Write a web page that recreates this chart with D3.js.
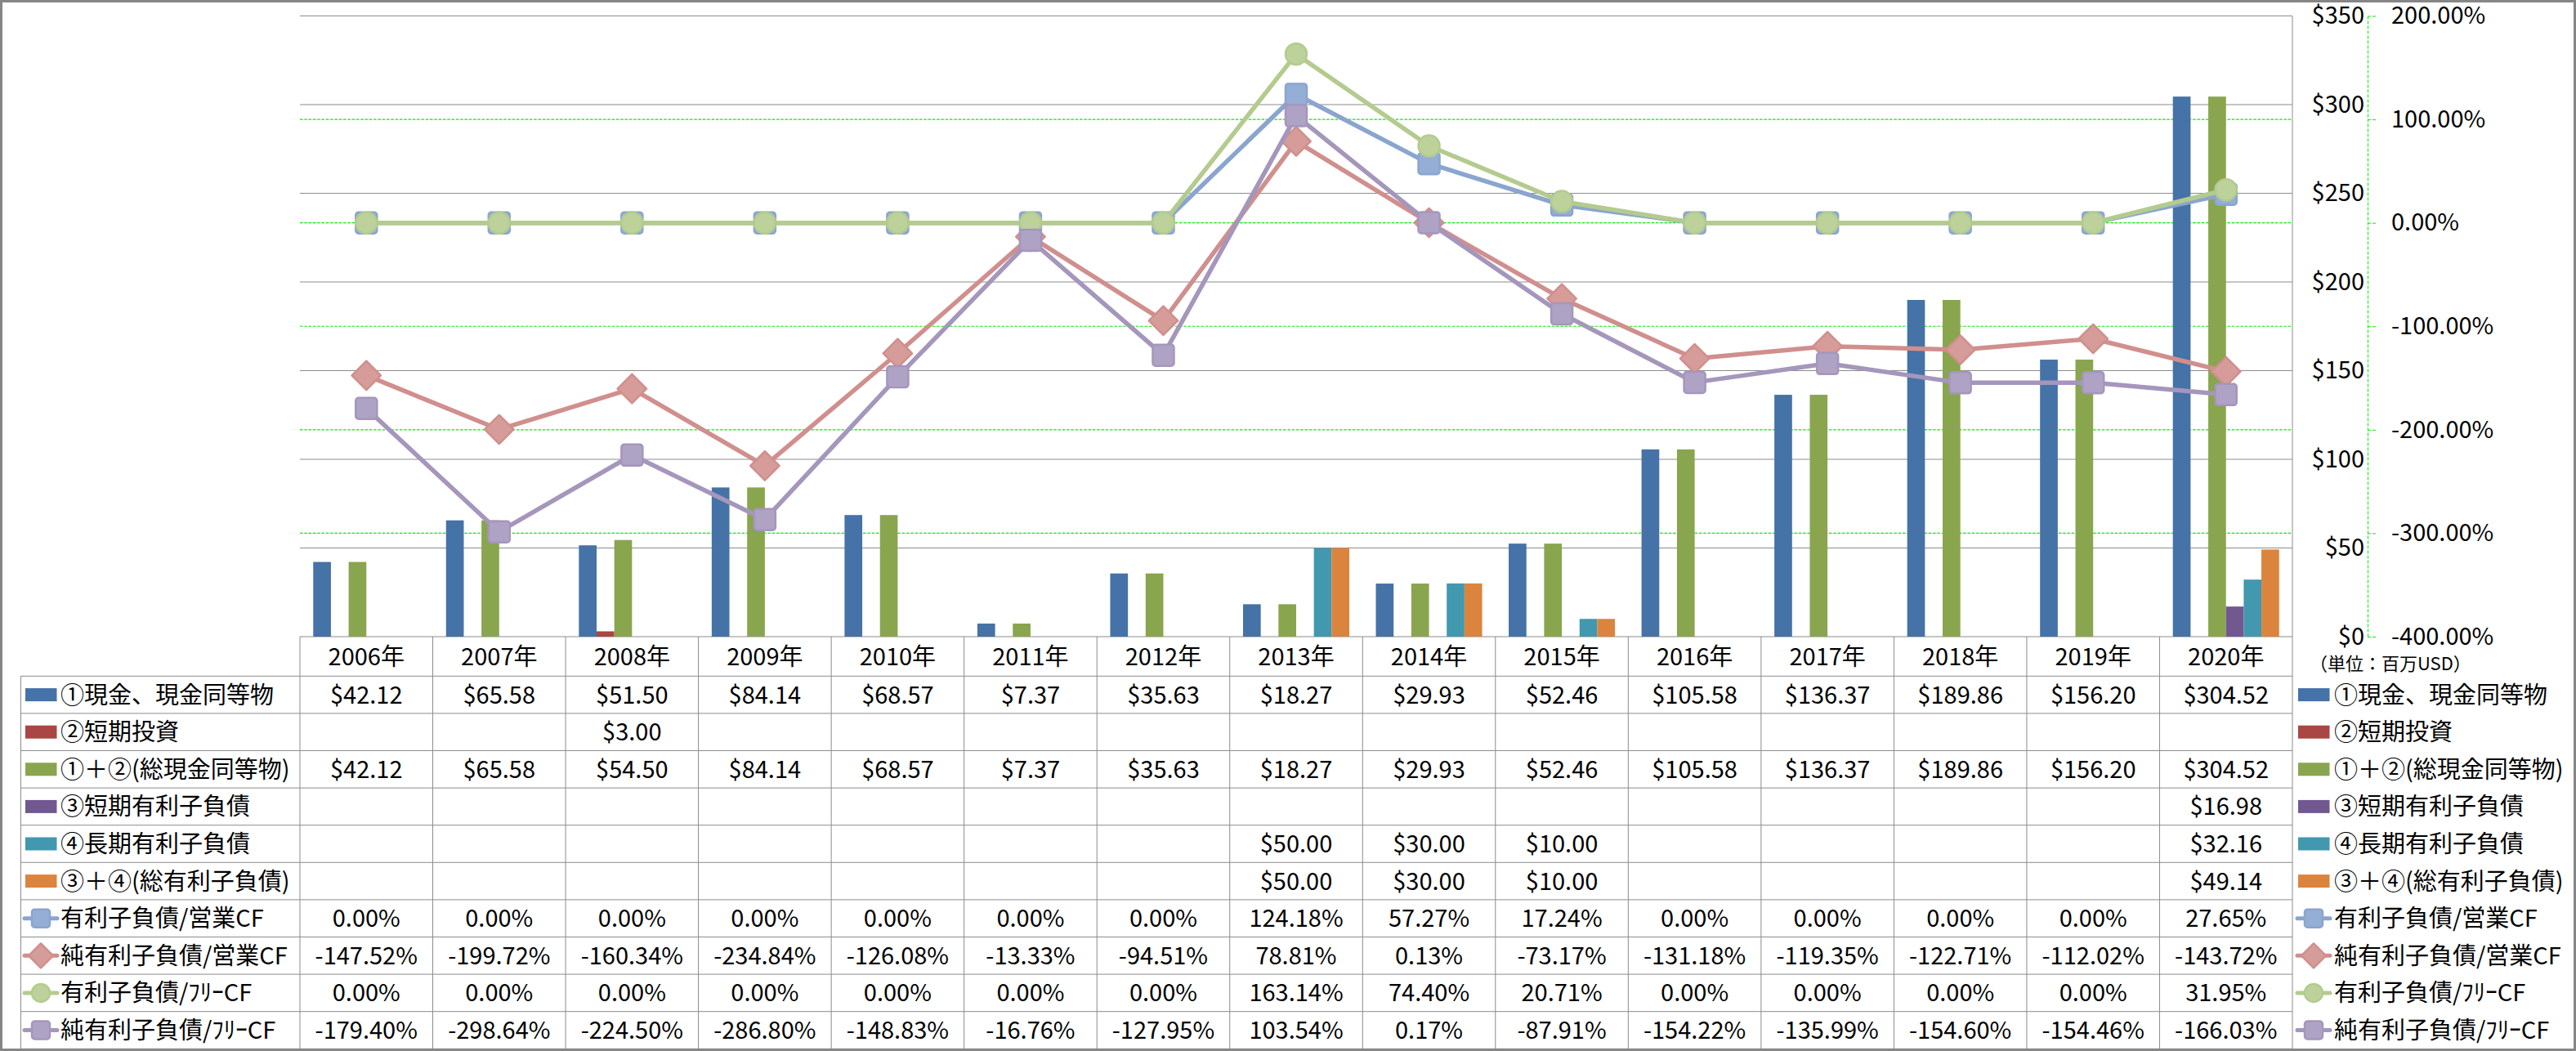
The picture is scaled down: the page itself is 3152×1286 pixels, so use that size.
<!DOCTYPE html>
<html><head><meta charset="utf-8">
<script src="https://cdn.jsdelivr.net/npm/d3@7"></script>
<style>
html,body{margin:0;padding:0;background:#fff;}
svg{display:block;}
text{font-family:'Noto Sans CJK JP','Lato',sans-serif;fill:#000;}
</style></head><body>
<svg id="chart" width="3152" height="1286"></svg>
<script>
// ---------- data ----------
const years = ['2006年','2007年','2008年','2009年','2010年','2011年','2012年','2013年','2014年','2015年','2016年','2017年','2018年','2019年','2020年'];
const cash        = [42.12, 65.58, 51.50, 84.14, 68.57, 7.37, 35.63, 18.27, 29.93, 52.46, 105.58, 136.37, 189.86, 156.20, 304.52];
const shortInv    = [null, null, 3.00, null, null, null, null, null, null, null, null, null, null, null, null];
const totalCash   = [42.12, 65.58, 54.50, 84.14, 68.57, 7.37, 35.63, 18.27, 29.93, 52.46, 105.58, 136.37, 189.86, 156.20, 304.52];
const shortDebt   = [null, null, null, null, null, null, null, null, null, null, null, null, null, null, 16.98];
const longDebt    = [null, null, null, null, null, null, null, 50.00, 30.00, 10.00, null, null, null, null, 32.16];
const totalDebt   = [null, null, null, null, null, null, null, 50.00, 30.00, 10.00, null, null, null, null, 49.14];
const debtOpCF    = [0, 0, 0, 0, 0, 0, 0, 124.18, 57.27, 17.24, 0, 0, 0, 0, 27.65];
const netDebtOpCF = [-147.52, -199.72, -160.34, -234.84, -126.08, -13.33, -94.51, 78.81, 0.13, -73.17, -131.18, -119.35, -122.71, -112.02, -143.72];
const debtFreeCF  = [0, 0, 0, 0, 0, 0, 0, 163.14, 74.40, 20.71, 0, 0, 0, 0, 31.95];
const netDebtFreeCF = [-179.40, -298.64, -224.50, -286.80, -148.83, -16.76, -127.95, 103.54, 0.17, -87.91, -154.22, -135.99, -154.60, -154.46, -166.03];
const dollarTicks = [0, 50, 100, 150, 200, 250, 300, 350];
const pctTicks = [-400, -300, -200, -100, 0, 100, 200];
const seriesNames = ['①現金、現金同等物','②短期投資','①＋②(総現金同等物)','③短期有利子負債','④長期有利子負債','③＋④(総有利子負債)',
  '有利子負債/営業CF','純有利子負債/営業CF','有利子負債/ﾌﾘｰCF','純有利子負債/ﾌﾘｰCF'];
const unitLabel = '（単位：百万USD）';

// ---------- styles ----------
const barColors = ['#4572A7','#AA4643','#89A54E','#71588F','#4198AF','#DB843D'];
const lineColors = ['#8AA5CE','#D08F8D','#B4CB8E','#A596BC'];
const markerFills = ['#95AED5','#D69C9A','#BDD29A','#AFA3C5'];
const shapes = ['square','diamond','circle','square'];

const barSeries = [cash, shortInv, totalCash, shortDebt, longDebt, totalDebt];
const lineSeries = [debtOpCF, netDebtOpCF, debtFreeCF, netDebtFreeCF];

const L = 367, R = 2805, T = 19.5, B = 779;
const tableLeft = 25.5, headerBottom = 827.3, rowH = 45.6;
const FS = 29;

const svg = d3.select('#chart');

// outer border
svg.append('rect').attr('x',1.5).attr('y',1.5).attr('width',3149).attr('height',1283)
  .attr('fill','#fff').attr('stroke','#868686').attr('stroke-width',3);

const x = d3.scaleBand().domain(years).range([L, R]).paddingInner(0).paddingOuter(0);
const xInner = d3.scaleBand().domain(d3.range(6)).range([0, x.bandwidth()]).paddingInner(0).paddingOuter(0.75);
const yL = d3.scaleLinear().domain([0, 350]).range([B, T]);
const yR = d3.scaleLinear().domain([-400, 200]).range([B, T]);

// green dashed gridlines (secondary axis)
svg.append('g').selectAll('line').data(pctTicks.filter(d => d !== -400 && d !== 200)).join('line')
  .attr('x1', L).attr('x2', R).attr('y1', d => yR(d)).attr('y2', d => yR(d))
  .attr('stroke', '#00F000').attr('stroke-width', 1.2).attr('stroke-dasharray', '3.5,1.8');
// gray gridlines (primary axis)
svg.append('g').selectAll('line').data(dollarTicks).join('line')
  .attr('x1', L).attr('x2', R).attr('y1', d => yL(d)).attr('y2', d => yL(d))
  .attr('stroke', '#8C8C8C').attr('stroke-width', 1);
// plot right border
svg.append('line').attr('x1', R).attr('x2', R).attr('y1', T).attr('y2', 1283)
  .attr('stroke', '#8C8C8C').attr('stroke-width', 1);

// bars
barSeries.forEach((vals, si) => {
  svg.append('g').selectAll('rect')
    .data(years.map((yr, i) => ({yr, v: vals[i]})).filter(d => d.v != null))
    .join('rect')
    .attr('x', d => x(d.yr) + xInner(si))
    .attr('width', xInner.bandwidth())
    .attr('y', d => yL(d.v))
    .attr('height', d => yL(0) - yL(d.v))
    .attr('fill', barColors[si]);
});

// marker drawer
function marker(sel, shape, color, fill, size) {
  if (shape === 'square') {
    sel.append('rect').attr('x', -size/2).attr('y', -size/2).attr('width', size).attr('height', size)
      .attr('rx', 3.5).attr('fill', fill).attr('stroke', color).attr('stroke-width', 2.5);
  } else if (shape === 'diamond') {
    const h = size * 0.68;
    sel.append('path').attr('d', `M0,${-h}L${h},0L0,${h}L${-h},0Z`)
      .attr('fill', fill).attr('stroke', color).attr('stroke-width', 2.5).attr('stroke-linejoin', 'round');
  } else {
    sel.append('circle').attr('r', size/2).attr('fill', fill).attr('stroke', color).attr('stroke-width', 2.5);
  }
}

// lines
const cx = yr => x(yr) + x.bandwidth()/2;
lineSeries.forEach((vals, si) => {
  const pts = years.map((yr, i) => ({yr, v: vals[i]}));
  const g = svg.append('g');
  g.append('path').datum(pts)
    .attr('d', d3.line().x(d => cx(d.yr)).y(d => yR(d.v)))
    .attr('fill', 'none').attr('stroke', lineColors[si]).attr('stroke-width', 5.5)
    .attr('stroke-linejoin', 'round');
  g.selectAll('g.m').data(pts).join('g').attr('class', 'm')
    .attr('transform', d => `translate(${cx(d.yr)},${yR(d.v)})`)
    .each(function() { marker(d3.select(this), shapes[si], lineColors[si], markerFills[si], 26); });
});

// primary ($) axis labels
const axL = svg.append('g').attr('transform', `translate(2897,0)`)
  .call(d3.axisLeft(yL).tickValues(dollarTicks).tickSize(0).tickPadding(4).tickFormat(d => '$' + d));
axL.select('.domain').remove();
axL.selectAll('text').attr('font-size', FS).attr('font-family', null).attr('fill', '#000');

// secondary (%) axis
const axR = svg.append('g').attr('transform', `translate(2897,0)`)
  .call(d3.axisRight(yR).tickValues(pctTicks).tickSizeInner(10).tickSizeOuter(0).tickPadding(19)
    .tickFormat(d => d.toFixed(2) + '%'));
axR.select('.domain').attr('stroke', '#00F000').attr('stroke-dasharray', '4,2');
axR.selectAll('.tick line').attr('stroke', '#00F000').attr('stroke-dasharray', '4,2');
axR.selectAll('text').attr('font-size', FS).attr('font-family', null)
  .attr('fill', d => d < 0 ? '#FF0000' : '#000');

// unit label
svg.append('text').attr('x', 2826).attr('y', 812).attr('dy', '0.36em')
  .attr('font-size', 22).text(unitLabel);

// ---------- data table ----------
const tg = svg.append('g');
const gridStroke = '#8C8C8C';
// header row cells
years.forEach(yr => {
  tg.append('line').attr('x1', x(yr)).attr('x2', x(yr)).attr('y1', B).attr('y2', 1283).attr('stroke', gridStroke);
  tg.append('text').attr('x', cx(yr)).attr('y', (B + headerBottom)/2).attr('dy', '0.36em')
    .attr('text-anchor', 'middle').attr('font-size', FS).text(yr);
});
// left border of table
tg.append('line').attr('x1', tableLeft).attr('x2', tableLeft).attr('y1', headerBottom).attr('y2', 1283).attr('stroke', gridStroke);
// horizontal rows
d3.range(11).forEach(k => {
  const y = headerBottom + k * rowH;
  tg.append('line').attr('x1', tableLeft).attr('x2', R).attr('y1', y).attr('y2', y).attr('stroke', gridStroke);
});

const allSeries = barSeries.concat(lineSeries);
allSeries.forEach((vals, si) => {
  const yc = headerBottom + si * rowH + rowH / 2;
  const isBar = si < 6;
  const fmt = isBar ? (v => '$' + v.toFixed(2)) : (v => v.toFixed(2) + '%');
  // values
  tg.append('g').selectAll('text').data(years.map((yr, i) => ({yr, v: vals[i]})).filter(d => d.v != null))
    .join('text').attr('x', d => cx(d.yr)).attr('y', yc).attr('dy', '0.36em')
    .attr('text-anchor', 'middle').attr('font-size', FS).text(d => fmt(d.v));
  // legend keys (left in table, right outside)
  [[31, 74], [2812, 2856]].forEach(([kx, tx]) => {
    if (isBar) {
      tg.append('rect').attr('x', kx).attr('y', yc - 8).attr('width', 38.5).attr('height', 16).attr('fill', barColors[si]);
    } else {
      const li = si - 6;
      const kg = tg.append('g').attr('transform', `translate(${kx - 3 + 22},${yc})`);
      kg.append('line').attr('x1', -20).attr('x2', 20).attr('stroke', lineColors[li])
        .attr('stroke-width', 5).attr('stroke-linecap', 'round');
      marker(kg, shapes[li], lineColors[li], markerFills[li], 22);
    }
    tg.append('text').attr('x', tx).attr('y', yc).attr('dy', '0.36em')
      .attr('font-size', FS).text(seriesNames[si]);
  });
});
</script></body></html>
